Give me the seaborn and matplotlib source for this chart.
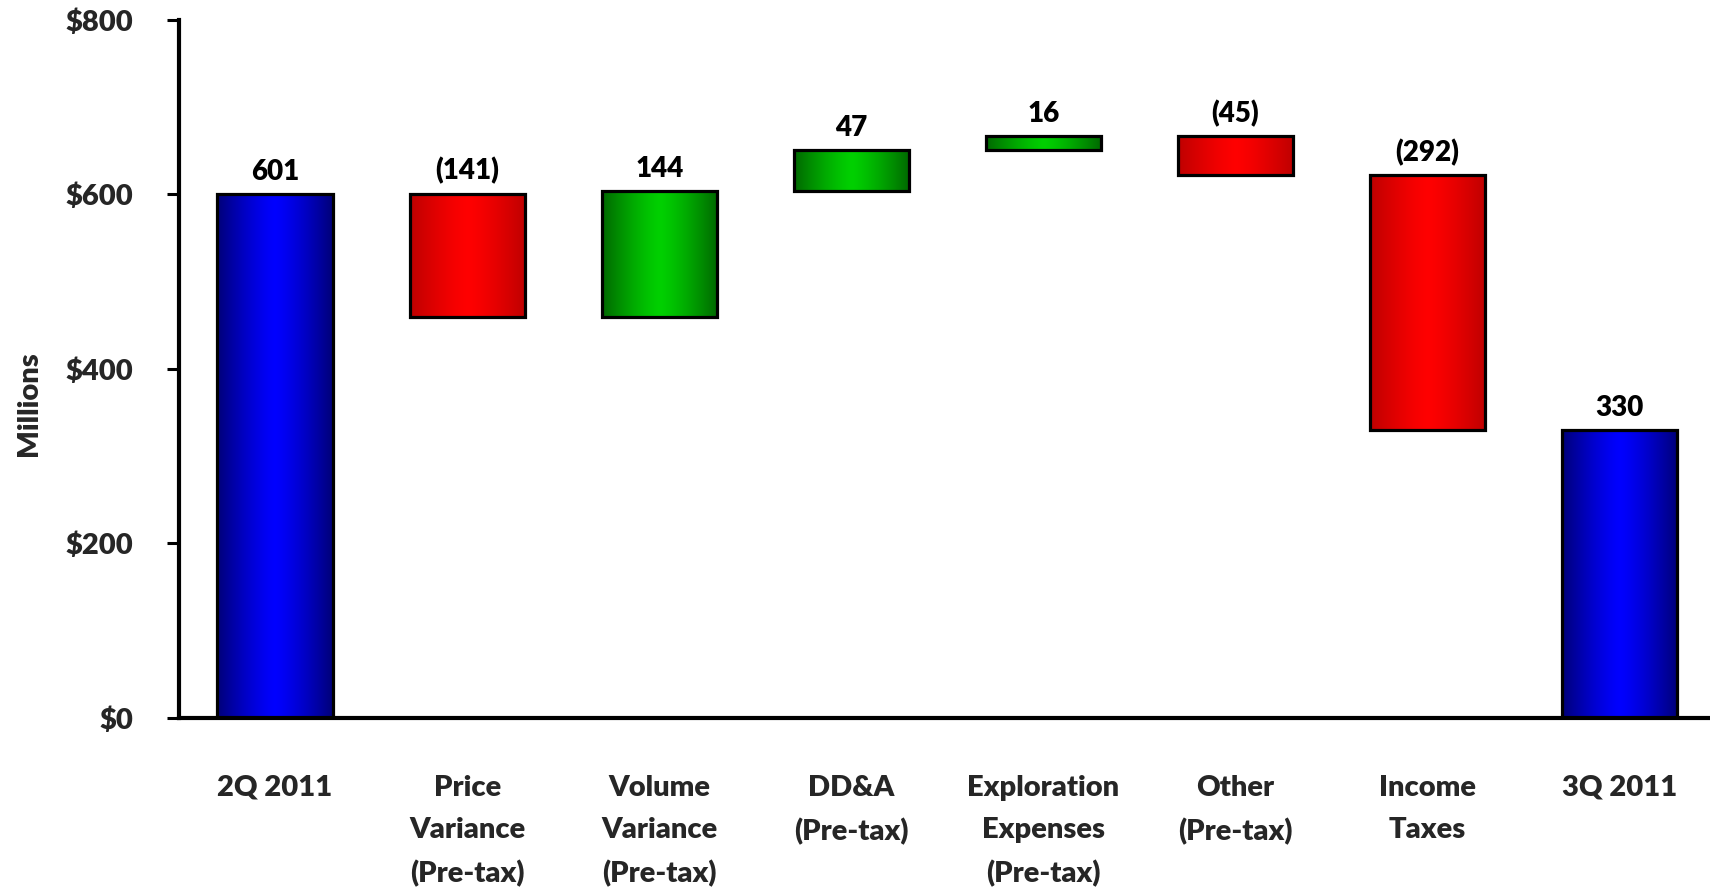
import numpy as np
import matplotlib
matplotlib.use("Agg")
import matplotlib.pyplot as plt
import seaborn as sns
from matplotlib.colors import to_rgb

# --- data ---------------------------------------------------------------
categories = ["2Q 2011", "Price\nVariance\n(Pre-tax)", "Volume\nVariance\n(Pre-tax)",
              "DD&A\n(Pre-tax)", "Exploration\nExpenses\n(Pre-tax)", "Other\n(Pre-tax)",
              "Income\nTaxes", "3Q 2011"]
changes = [601, -141, 144, 47, 16, -45, -292, 330]
kinds = ["total", "delta", "delta", "delta", "delta", "delta", "delta", "total"]
value_labels = ["601", "(141)", "144", "47", "16", "(45)", "(292)", "330"]
yticks = [0, 200, 400, 600, 800]
ytick_labels = ["$0", "$200", "$400", "$600", "$800"]

# --- style --------------------------------------------------------------
sns.set_theme(style="white")
plt.rcParams["font.family"] = ["Lato", "DejaVu Sans"]
WEIGHT = "heavy"
plt.rcParams["font.weight"] = WEIGHT

fig = plt.figure(figsize=(17.10, 8.91), dpi=100)
ax = fig.add_axes([0.1047, 0.1942, 0.8986, 0.7834])

# waterfall geometry
bottoms, heights = [], []
running = 0
for c, k in zip(changes, kinds):
    if k == "total":
        bottoms.append(0)
        heights.append(c)
        running = c
    else:
        lo = min(running, running + c)
        bottoms.append(lo)
        heights.append(abs(c))
        running += c

# colour ramps: (edge, centre)
ramps = {
    "total": ("#000078", "#0000FF"),
    "up": ("#006800", "#00D000"),
    "down": ("#BE0000", "#FF0000"),
}

def ramp_image(dark, bright, n=256):
    t = np.linspace(-1, 1, n)
    w = 1 - np.abs(t) ** 1.3
    d, b = np.array(to_rgb(dark)), np.array(to_rgb(bright))
    row = d[None, :] + (b - d)[None, :] * w[:, None]
    return row[None, :, :]

x = np.arange(len(categories))
width = 0.6
bars = ax.bar(x, heights, width=width, bottom=bottoms, facecolor="none",
              edgecolor="black", linewidth=2.3, zorder=3)

for i, bar in enumerate(bars):
    key = "total" if kinds[i] == "total" else ("up" if changes[i] > 0 else "down")
    img = ramp_image(*ramps[key])
    x0 = bar.get_x()
    im = ax.imshow(img, extent=[x0, x0 + width, bottoms[i], bottoms[i] + heights[i]],
                   aspect="auto", zorder=2, interpolation="bilinear")
    im.set_clip_path(bar)
    top = bottoms[i] + heights[i]
    ax.annotate(value_labels[i], (x[i], top), xytext=(0, 10), textcoords="offset points",
                ha="center", va="baseline", fontsize=20, fontweight=WEIGHT, color="black")

ax.set_xlim(-0.5, len(categories) - 0.5)
ax.set_ylim(0, 800)
ax.set_yticks(yticks)
ax.set_yticklabels(ytick_labels, fontsize=21, fontweight=WEIGHT)
ax.set_xticks(x)
ax.set_xticklabels(categories, fontsize=21, fontweight=WEIGHT, linespacing=1.75)
ax.set_xticks(np.arange(len(categories)) + 0.5, minor=True)
ax.tick_params(axis="x", which="major", length=0, pad=41)
ax.tick_params(axis="x", which="minor", direction="out", length=9, width=2.2, color="black")
ax.tick_params(axis="y", direction="out", length=9, width=2.2, color="black", pad=24, left=True)
ax.set_ylabel("Millions", fontsize=21, fontweight=WEIGHT)
ax.yaxis.set_label_coords(-0.089, 0.45)

for s in ["top", "right"]:
    ax.spines[s].set_visible(False)
for s in ["left", "bottom"]:
    ax.spines[s].set_color("black")
    ax.spines[s].set_linewidth(3)
ax.grid(False)

fig.savefig("out.png", dpi=100, facecolor="white")
